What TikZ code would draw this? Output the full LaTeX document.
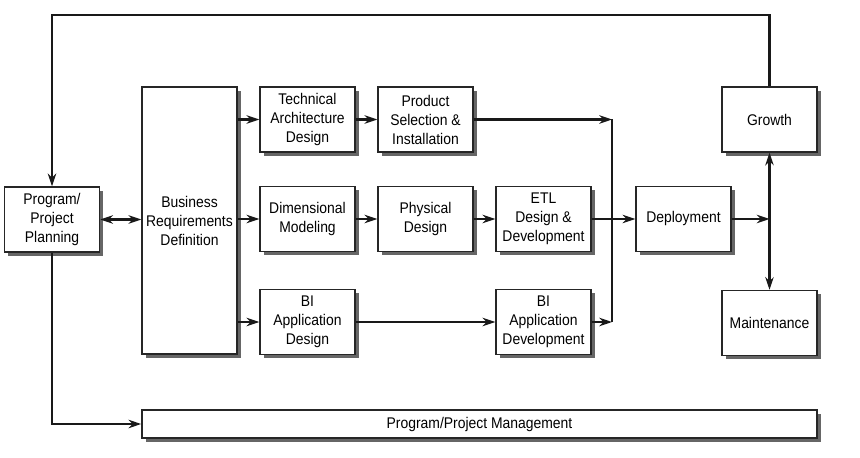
\documentclass[tikz,border=0pt]{standalone}
\usepackage{fontspec}
\setmainfont{Liberation Sans}[FakeStretch=0.9]
\usepackage{tikz}
\usetikzlibrary{positioning,shadows,arrows.meta}

\tikzset{
  phase/.style={draw=black!85, line width=1pt, fill=white, align=center,
    minimum width=2.375cm, minimum height=1.625cm, inner sep=1pt,
    font=\fontsize{11}{13.5}\selectfont,
    drop shadow={shadow xshift=0.09cm, shadow yshift=-0.09cm, fill=black!60, opacity=1}},
  flow/.style={line width=1.5pt, black!90},
}

\begin{document}
\begin{tikzpicture}[x=0.025cm, y=-0.025cm, >={Stealth[length=9pt,width=6pt]}]
    \useasboundingbox (0,0) rectangle (860,458);
    %%%%% THE PHASES
    \node[phase] (PLAN) at (52,219.5) {Program/\\Project\\Planning};
    \node[phase, minimum height=6.675cm] (BRD) at (189.5,220.5) {Business\\Requirements\\Definition};
    \node[phase] (TECH) at (307.5,119.5) {Technical\\Architecture\\Design};
    \node[phase] (PROD) at (425.5,119.5) {Product\\Selection \&\\Installation};
    \node[phase] (DIM) at (307.5,219) {Dimensional\\Modeling};
    \node[phase] (PHYS) at (425.5,219) {Physical\\Design};
    \node[phase] (ETL) at (543.5,219) {ETL\\Design \&\\Development};
    \node[phase] (BIDES) at (307.5,322) {BI\\Application\\Design};
    \node[phase] (BIDEV) at (543.5,322) {BI\\Application\\Development};
    \node[phase] (DEPLOY) at (683.5,219) {Deployment};
    \node[phase] (GROW) at (769.5,119.5) {Growth};
    \node[phase] (MAINT) at (769.5,323) {Maintenance};
    \node[phase, minimum width=16.875cm, minimum height=0.7cm] (MGMT) at (479.5,424) {Program/Project Management};
    % Junction points
    \coordinate (JOIN1) at (612,119.5);
    \coordinate (JOIN3) at (612,322);
    \coordinate (JOIN2) at (769.5,219);
    %%%%% THE CONNECTORS
    \draw[flow,->] (GROW.north) |- (52,15) -- (PLAN.north);
    \draw[flow,->] (PLAN.south) |- (MGMT.west);
    \draw[flow,<->] (PLAN.east) -- (PLAN.east -| BRD.west);
    \draw[flow,->] (TECH.west -| BRD.east) -- (TECH.west);
    \draw[flow,->] (DIM.west -| BRD.east) -- (DIM.west);
    \draw[flow,->] (BIDES.west -| BRD.east) -- (BIDES.west);
    \draw[flow,->] (TECH) -- (PROD);
    \draw[flow,->] (DIM) -- (PHYS);
    \draw[flow,->] (PHYS) -- (ETL);
    \draw[flow,->] (BIDES) -- (BIDEV);
    \draw[flow,->] (PROD.east) -- (JOIN1);
    \draw[flow,->] (BIDEV.east) -- (JOIN3);
    \draw[flow] (JOIN1) -- (JOIN3);
    \draw[flow,->] (ETL) -- (DEPLOY);
    \draw[flow,->] (DEPLOY.east) -- (JOIN2);
    \draw[flow,->] (JOIN2) -- (GROW.south);
    \draw[flow,->] (JOIN2) -- (MAINT.north);
  \end{tikzpicture}
\end{document}
